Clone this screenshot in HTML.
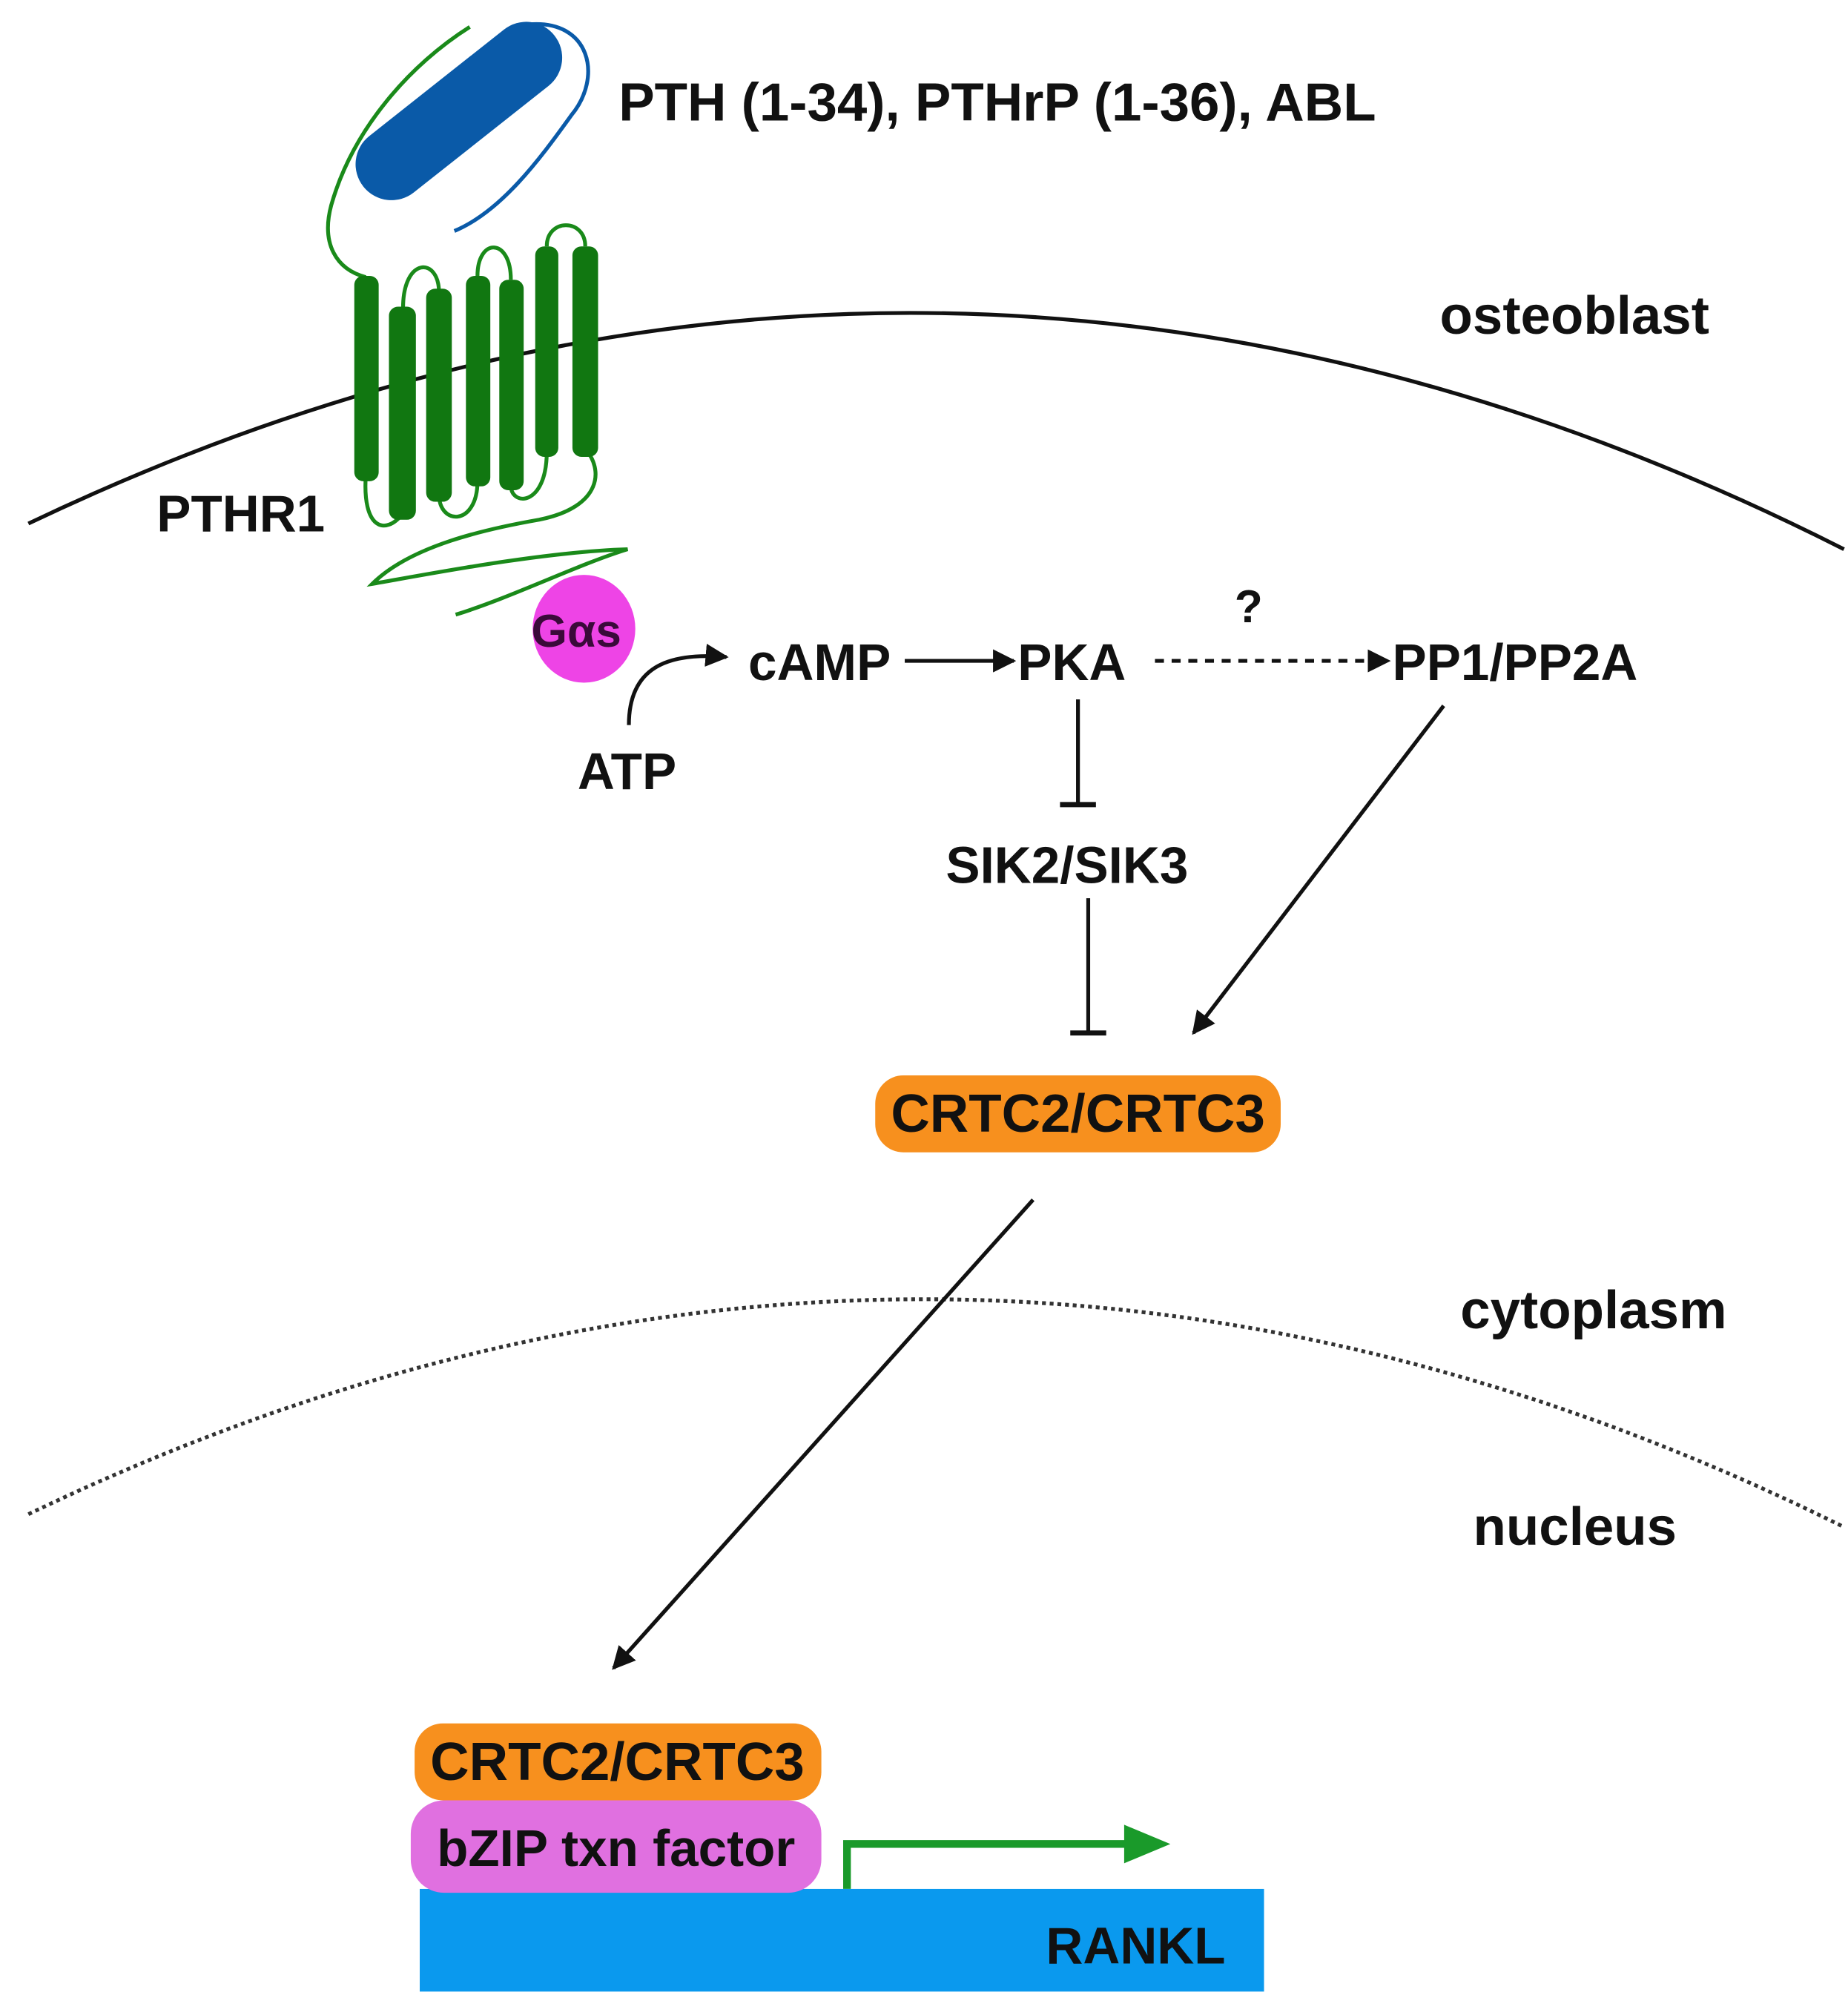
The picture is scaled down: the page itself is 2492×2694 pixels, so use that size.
<!DOCTYPE html>
<html><head><meta charset="utf-8"><style>
html,body{margin:0;padding:0;background:#fff;}
svg{display:block;}
text{font-family:"Liberation Sans",Arial,sans-serif;font-weight:bold;fill:#111;}
</style></head><body>
<svg width="2492" height="2694" viewBox="0 0 1440 1557" xmlns="http://www.w3.org/2000/svg">
<defs>
<marker id="ah2" viewBox="0 0 10 10" refX="9" refY="5" markerWidth="18" markerHeight="18" orient="auto" markerUnits="userSpaceOnUse"><path d="M0,0 L10,5 L0,10 z" fill="#111"/></marker>
</defs>
<path d="M22,408 Q730,70 1437,428" fill="none" stroke="#111" stroke-width="3"/>
<path d="M22,1180 Q730,840 1437,1190" fill="none" stroke="#333" stroke-width="3" stroke-dasharray="3,3"/>
<line x1="305" y1="128" x2="410" y2="45" stroke="#0a5aa8" stroke-width="56" stroke-linecap="round"/>
<path d="M412,19 C460,15 470,60 445,90 C420,125 390,165 354,180" fill="none" stroke="#0a5aa8" stroke-width="3"/>
<path d="M366,21 C320,50 275,100 258,160 C250,190 262,210 285,216" fill="none" stroke="#1a8a1a" stroke-width="3"/>
<g fill="none" stroke="#1a8a1a" stroke-width="3">
<path d="M285,370 C282,412 300,418 314,400"/>
<path d="M314,240 C314,200 342,200 342,228"/>
<path d="M342,385 C342,410 372,410 372,375"/>
<path d="M372,215 C372,185 398,185 398,218"/>
<path d="M398,378 C398,395 426,395 426,352"/>
<path d="M426,192 C426,170 456,170 456,192"/>
<path d="M456,350 C470,365 470,395 420,405 C380,412 320,425 290,455 C320,450 420,430 489,428 C450,440 400,465 355,479"/>
</g>
<g fill="#117711">
<rect x="276" y="215" width="19" height="160" rx="7"/>
<rect x="303" y="239" width="21" height="166" rx="7"/>
<rect x="332" y="225" width="20" height="166" rx="7"/>
<rect x="363" y="215" width="19" height="164" rx="7"/>
<rect x="389" y="218" width="19" height="164" rx="7"/>
<rect x="417" y="192" width="18" height="164" rx="7"/>
<rect x="446" y="192" width="20" height="164" rx="7"/>
</g>
<ellipse cx="455" cy="490" rx="40" ry="42" fill="#ee44e6"/>
<text x="414" y="504" font-size="36" style="fill:#3a0a3a">Gαs</text>
<text x="482" y="94" font-size="42">PTH (1-34), PTHrP (1-36), ABL</text>
<text x="1122" y="260" font-size="42">osteoblast</text>
<text x="122" y="414" font-size="40">PTHR1</text>
<text x="583" y="530" font-size="40">cAMP</text>
<text x="793" y="530" font-size="40">PKA</text>
<text x="1085" y="530" font-size="40">PP1/PP2A</text>
<text x="962" y="485" font-size="36">?</text>
<text x="450" y="615" font-size="40">ATP</text>
<text x="737" y="688" font-size="40">SIK2/SIK3</text>
<text x="1138" y="1035" font-size="42">cytoplasm</text>
<text x="1148" y="1204" font-size="42">nucleus</text>
<g stroke="#111" stroke-width="3" fill="none">
<path d="M490,565 C490,520 520,508 566,512" marker-end="url(#ah2)"/>
<line x1="705" y1="515" x2="790" y2="515" marker-end="url(#ah2)"/>
<line x1="900" y1="515" x2="1082" y2="515" stroke-dasharray="7,6" marker-end="url(#ah2)"/>
<line x1="840" y1="545" x2="840" y2="627"/>
<line x1="826" y1="627" x2="854" y2="627" stroke-width="4"/>
<line x1="848" y1="700" x2="848" y2="805"/>
<line x1="834" y1="805" x2="862" y2="805" stroke-width="4"/>
<line x1="1125" y1="550" x2="930" y2="805" marker-end="url(#ah2)"/>
<line x1="805" y1="935" x2="478" y2="1300" marker-end="url(#ah2)"/>
</g>
<rect x="682" y="838" width="316" height="60" rx="22" fill="#f7901e"/>
<text x="840" y="882" font-size="42" text-anchor="middle">CRTC2/CRTC3</text>
<rect x="327" y="1472" width="658" height="80" fill="#0a99ee"/>
<text x="815" y="1530" font-size="40">RANKL</text>
<rect x="320" y="1403" width="320" height="72" rx="26" fill="#e070e0"/>
<text x="480" y="1454" font-size="40" text-anchor="middle">bZIP txn factor</text>
<rect x="323" y="1343" width="317" height="60" rx="22" fill="#f7901e"/>
<text x="481" y="1387" font-size="42" text-anchor="middle">CRTC2/CRTC3</text>
<path d="M660,1472 L660,1437 L880,1437" fill="none" stroke="#1a9a2a" stroke-width="6"/>
<path d="M876,1422 L912,1437 L876,1452 z" fill="#1a9a2a"/>
</svg>
</body></html>
